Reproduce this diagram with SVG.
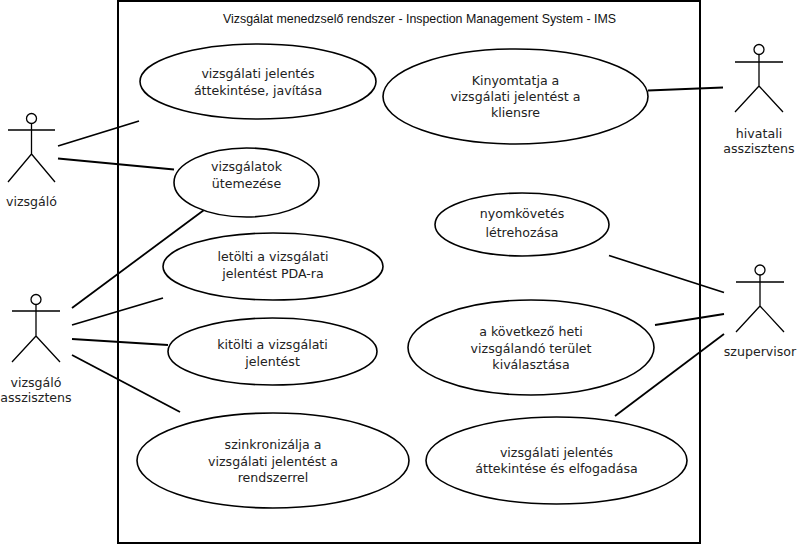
<svg xmlns="http://www.w3.org/2000/svg" width="799" height="547" viewBox="0 0 799 547">
<style>
.uc{fill:#fff;stroke:#000;stroke-width:1.6}
.t{font-family:"DejaVu Sans",sans-serif;font-size:12.6px;fill:#222;text-anchor:middle}
.ti{font-family:"Liberation Sans",Arial,sans-serif;font-size:12.4px;fill:#111;text-anchor:middle}
.act{fill:none;stroke:#000;stroke-width:1.3}
.head{fill:#fff;stroke:#000;stroke-width:1.3}
.c{stroke:#000;stroke-width:1.8;fill:none}
</style>
<rect width="799" height="547" fill="#fff"/>
<g id="system">
<rect x="118" y="1" width="582" height="542" fill="none" stroke="#000" stroke-width="2"/>
<text class="ti" x="419.5" y="23">Vizsgálat menedzselő rendszer - Inspection Management System - IMS</text>
</g>
<g id="connectors">
<line class="c" x1="58" y1="146" x2="139" y2="121"/>
<line class="c" x1="58" y1="158.5" x2="174" y2="169.5"/>
<line class="c" x1="72" y1="308" x2="204" y2="210"/>
<line class="c" x1="72" y1="325" x2="163" y2="298"/>
<line class="c" x1="72" y1="339" x2="168" y2="345"/>
<line class="c" x1="72" y1="355" x2="180" y2="412"/>
<line class="c" x1="648" y1="90.5" x2="723" y2="87.5"/>
<line class="c" x1="609" y1="255.5" x2="724" y2="292.5"/>
<line class="c" x1="655" y1="325" x2="724" y2="314"/>
<line class="c" x1="615" y1="416" x2="724" y2="334"/>
</g>
<g id="uc1">
<ellipse class="uc" cx="258" cy="81.5" rx="118" ry="37.5"/>
<text class="t" x="258" y="78">vizsgálati jelentés</text>
<text class="t" x="258" y="95">áttekintése, javítása</text>
</g>
<g id="uc2">
<ellipse class="uc" cx="246.5" cy="182.5" rx="72.5" ry="34.5"/>
<text class="t" x="246.5" y="170.5">vizsgálatok</text>
<text class="t" x="246.5" y="188">ütemezése</text>
</g>
<g id="uc3">
<ellipse class="uc" cx="515.5" cy="96.5" rx="132.5" ry="47.5"/>
<text class="t" x="515.5" y="84.5">Kinyomtatja a</text>
<text class="t" x="515.5" y="101">vizsgálati jelentést a</text>
<text class="t" x="515.5" y="117">kliensre</text>
</g>
<g id="uc4">
<ellipse class="uc" cx="522" cy="224.5" rx="87" ry="31.5"/>
<text class="t" x="522" y="218">nyomkövetés</text>
<text class="t" x="522" y="237">létrehozása</text>
</g>
<g id="uc5">
<ellipse class="uc" cx="273" cy="266.5" rx="110" ry="33.5"/>
<text class="t" x="273" y="261">letölti a vizsgálati</text>
<text class="t" x="273" y="278">jelentést PDA-ra</text>
</g>
<g id="uc6">
<ellipse class="uc" cx="272.5" cy="351.5" rx="104.5" ry="33.5"/>
<text class="t" x="272.5" y="349">kitölti a vizsgálati</text>
<text class="t" x="272.5" y="365.5">jelentést</text>
</g>
<g id="uc7">
<ellipse class="uc" cx="273" cy="460.5" rx="136" ry="47.5"/>
<text class="t" x="273" y="449">szinkronizálja a</text>
<text class="t" x="273" y="465.5">vizsgálati jelentést a</text>
<text class="t" x="273" y="481.5">rendszerrel</text>
</g>
<g id="uc8">
<ellipse class="uc" cx="531" cy="347.5" rx="123" ry="47.5"/>
<text class="t" x="531" y="336">a következő heti</text>
<text class="t" x="531" y="352.5">vizsgálandó terület</text>
<text class="t" x="531" y="368.5">kiválasztása</text>
</g>
<g id="uc9">
<ellipse class="uc" cx="556.5" cy="460.5" rx="130.5" ry="43.5"/>
<text class="t" x="556.5" y="457">vizsgálati jelentés</text>
<text class="t" x="556.5" y="473">áttekintése és elfogadása</text>
</g>
<g id="actor-vizsgalo">
<circle class="head" cx="31.5" cy="118.5" r="5"/>
<path class="act" d="M31.5 123.5V154M8 130H55M31.5 154L8 182M31.5 154L55 182"/>
<text class="t" x="31.5" y="206">vizsgáló</text>
</g>
<g id="actor-vizsgalo-asszisztens">
<circle class="head" cx="36" cy="299.5" r="5"/>
<path class="act" d="M36 304.5V336M12 311H60M36 336L12 362M36 336L60 362"/>
<text class="t" x="36" y="387">vizsgáló</text>
<text class="t" x="36" y="402">asszisztens</text>
</g>
<g id="actor-hivatali-asszisztens">
<circle class="head" cx="759" cy="49.5" r="5"/>
<path class="act" d="M759 54.5V86M735 62H783M759 86L735 112M759 86L783 112"/>
<text class="t" x="759" y="138">hivatali</text>
<text class="t" x="759" y="153">asszisztens</text>
</g>
<g id="actor-szupervisor">
<circle class="head" cx="760" cy="270" r="5"/>
<path class="act" d="M760 275V306M736 282H784M760 306L736 332M760 306L784 332"/>
<text class="t" x="760" y="356">szupervisor</text>
</g>
</svg>
